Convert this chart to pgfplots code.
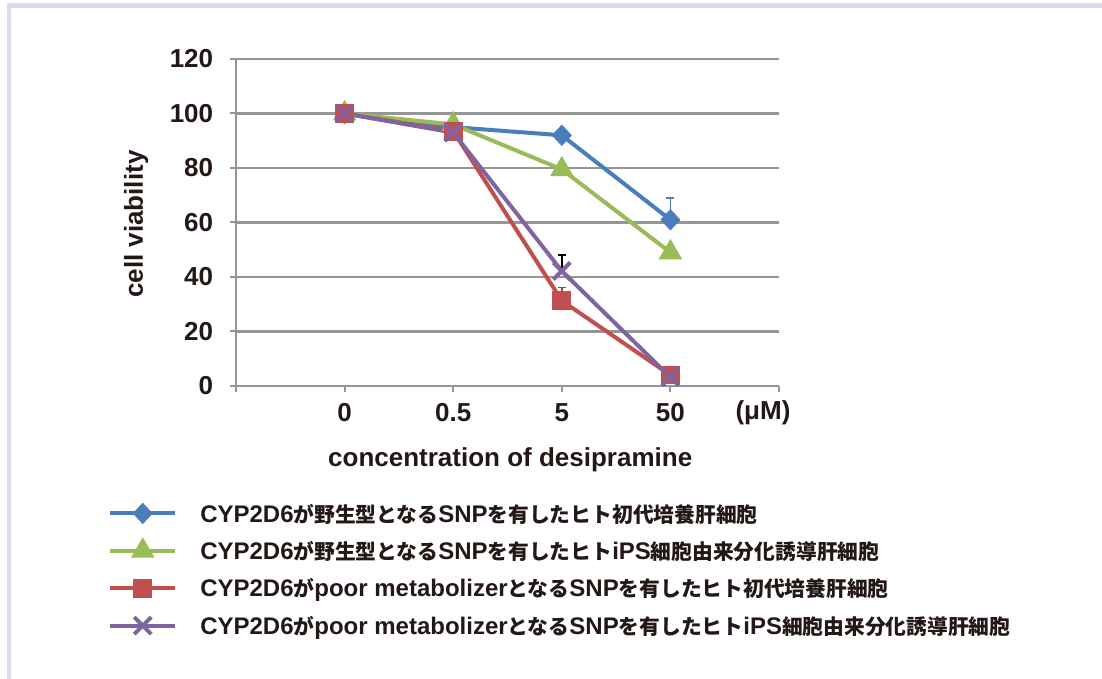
\documentclass[border=0pt]{standalone}
\usepackage{fontspec}
\setmainfont{Liberation Sans}
\newfontfamily\jp{Noto Sans CJK JP}[Scale=0.865]
\usepackage{pgfplots}
\pgfplotsset{compat=1.18}
\definecolor{cblue}{HTML}{4A7EBB}
\definecolor{cgreen}{HTML}{9BBB59}
\definecolor{cred}{HTML}{C0504D}
\definecolor{cpurple}{HTML}{8064A2}
\definecolor{cgrid}{HTML}{969696}
\definecolor{cframe}{HTML}{DCDAEE}
\definecolor{ctext}{HTML}{231815}
\begin{document}
\begin{tikzpicture}[x=1pt,y=1pt]
\path[use as bounding box] (0,0) rectangle (551,339.5);
\fill[white] (0,0) rectangle (551,339.5);
\draw[cframe, line width=2.2pt] (4.5,0) -- (4.5,336.8) -- (551,336.8);
\begin{axis}[
  at={(118pt,146.5pt)}, anchor=south west,
  scale only axis, width=271.5pt, height=163.5pt,
  clip=false,
  xmin=0, xmax=5, ymin=0, ymax=120,
  xtick={0,1,2,3,4,5}, xticklabels={,0,0.5,5,50,},
  ytick={0,20,...,120},
  ymajorgrids, major grid style={cgrid, line width=1.2pt},
  axis lines*=left,
  axis line style={cgrid, line width=1.3pt},
  tick style={cgrid, line width=1pt},
  tick align=outside, major tick length=3.2pt,
  /pgf/number format/assume math mode=true,
  ticklabel style={font=\bfseries\fontsize{13}{15}\selectfont, text=ctext},
  xticklabel style={yshift=-2pt},
  yticklabel style={xshift=-4.7pt},
  xlabel={concentration of desipramine},
  xlabel style={font=\bfseries\fontsize{13}{15}\selectfont, text=ctext, at={(axis description cs:0.505,-0.226)}, anchor=center},
  ylabel={cell viability},
  ylabel style={font=\bfseries\fontsize{13}{15}\selectfont, text=ctext, at={(axis description cs:-0.184,0.495)}, anchor=center},
  legend style={at={(axis description cs:-0.247,-0.319)}, anchor=north west, draw=none, fill=none,
    font=\bfseries\fontsize{12}{14}\selectfont, text=ctext, row sep=0pt,
    nodes={inner sep=0pt, text height=13.65pt, text depth=5.05pt}},
  legend cell align=left,
  legend image code/.code={\draw[mark repeat=2, mark phase=2, line width=2pt, #1] plot coordinates {(0pt,0pt) (16.25pt,0pt) (32.5pt,0pt)}; \path (44pt,0pt);},
]
\addplot[cblue, line width=2pt, mark=diamond*, mark size=3.9pt, mark options={solid, xscale=1.25}] coordinates {(1,100) (2,95) (3,92) (4,61)};
\addlegendentry{CYP2D6{\jp が野生型となる}SNP{\jp を有したヒト初代培養肝細胞}}
\addplot[cgreen, line width=2pt, mark=triangle*, mark size=4.8pt] coordinates {(1,100) (2,96) (3,79.5) (4,49)};
\addlegendentry{CYP2D6{\jp が野生型となる}SNP{\jp を有したヒト}iPS{\jp 細胞由来分化誘導肝細胞}}
\addplot[cred, line width=2pt, mark=square*, mark size=3.7pt] coordinates {(1,100) (2,93.5) (3,31.3) (4,4)};
\addlegendentry{CYP2D6{\jp が}poor metabolizer{\jp となる}SNP{\jp を有したヒト初代培養肝細胞}}
\addplot[cpurple, line width=2pt, mark=x, mark size=6pt, mark options={line width=2pt}] coordinates {(1,100) (2,93) (3,42.2) (4,3.2)};
\addlegendentry{CYP2D6{\jp が}poor metabolizer{\jp となる}SNP{\jp を有したヒト}iPS{\jp 細胞由来分化誘導肝細胞}}
\addplot[forget plot, draw=none, mark=none, error bars/.cd, y dir=plus, y explicit,
  error bar style={draw=cblue, line width=0.7pt}, error mark options={draw=cblue, line width=0.7pt, mark size=2pt, rotate=90}]
  coordinates {(4,61) +- (0,8)};
\addplot[forget plot, draw=none, mark=none, error bars/.cd, y dir=plus, y explicit,
  error bar style={draw=cred!80!black, line width=0.7pt}, error mark options={draw=cred!80!black, line width=0.7pt, mark size=2pt, rotate=90}]
  coordinates {(3,31.3) +- (0,4.8)};
\addplot[forget plot, draw=none, mark=none, error bars/.cd, y dir=plus, y explicit,
  error bar style={draw=black, line width=0.7pt}, error mark options={draw=black, line width=0.7pt, mark size=2pt, rotate=90}]
  coordinates {(3,42.2) +- (0,5.8)};
\node[font=\bfseries\fontsize{13}{15}\selectfont, text=ctext] at (axis description cs:0.9705,0) [yshift=-13.5pt] {(μM)};
\end{axis}
\end{tikzpicture}
\end{document}
